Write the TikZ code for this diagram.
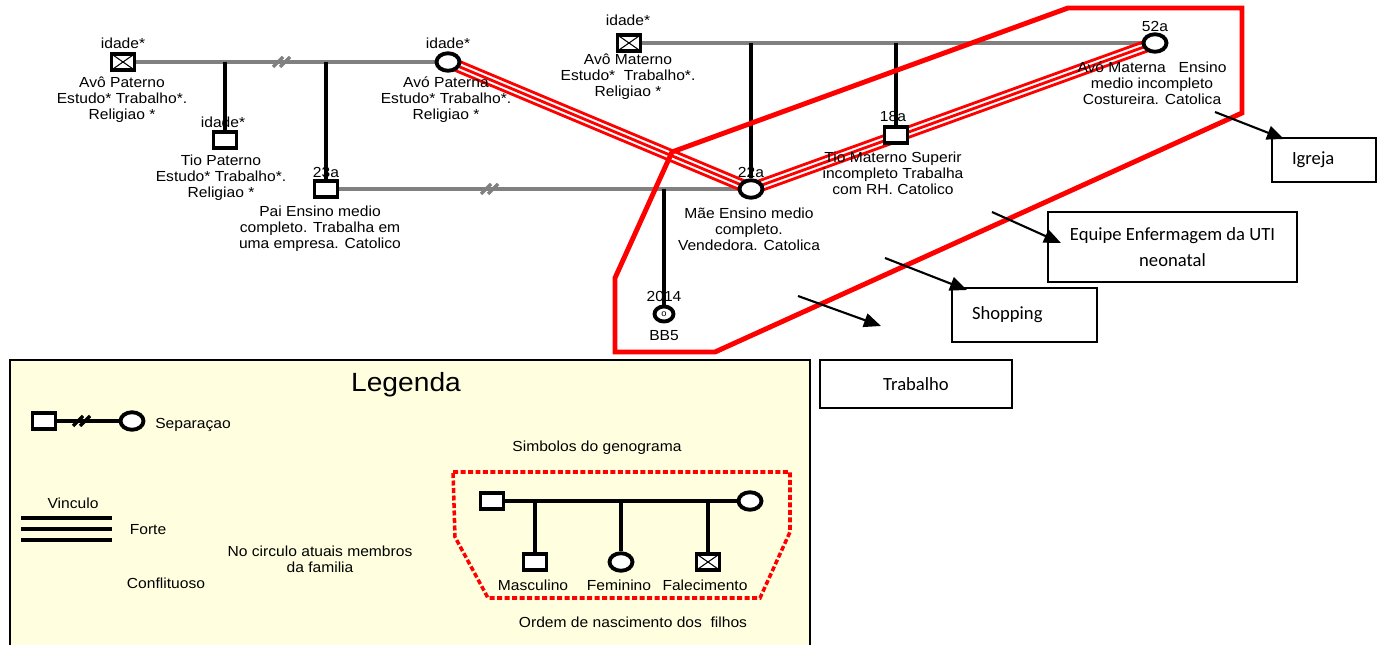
\documentclass[tikz,border=0pt]{standalone}
\usepackage{fontspec}
\setmainfont{Liberation Sans}[FakeStretch=1.07]
\newfontfamily\boxfont{Carlito}
\usetikzlibrary{arrows.meta,calc,backgrounds,shapes.geometric}
\definecolor{legbg}{RGB}{255,255,224}
\begin{document}
\begin{tikzpicture}[x=0.02cm,y=-0.02cm,
  every node/.style={font=\fontsize{8.3}{9.1}\selectfont, inner sep=0pt},
  lbl/.style={align=center},
  sq/.style={draw, rectangle, line width=2.2pt, fill=white, minimum width=0.46cm, minimum height=0.32cm},
  dsq/.style={sq, path picture={\draw[line width=0.6pt]
      (path picture bounding box.north west)--(path picture bounding box.south east)
      (path picture bounding box.north east)--(path picture bounding box.south west);}},
  fem/.style={draw, ellipse, line width=2.2pt, fill=white, minimum width=0.46cm, minimum height=0.35cm},
  gl/.style={gray, line width=2.2pt},
  drop/.style={black, line width=2.8pt},
  rel/.style={red, line width=1.6pt},
  arr/.style={black, line width=1.2pt, -{Triangle[length=0.34cm,width=0.28cm]}},
  boxst/.style={draw, line width=1.2pt, font=\boxfont\fontsize{10.6}{14.6}\selectfont},
  lline/.style={black, line width=2pt},
  sepmark/.pic={\draw[line width=2pt] (-9,5)--(1,-5) (-2,5)--(8,-5);}
]
\useasboundingbox (0,0) rectangle (1384,645);
\clip (0,0) rectangle (1384,645);

% ---------- family nodes ----------
\node[dsq] (avoPa) at (123,62) {};
\node (avoPaAge) at (123,43) {idade*};
\node[lbl] (avoPaTxt) at (122,100) {Avô Paterno\\Estudo* Trabalho*.\\Religiao *};

\node[sq] (tioPa) at (225,140) {};
\node (tioPaAge) at (223,122) {idade*};
\node[lbl] (tioPaTxt) at (221,178) {Tio Paterno\\Estudo* Trabalho*.\\Religiao *};

\node[sq] (pai) at (326,189) {};
\node (paiAge) at (326,172) {23a};
\node[lbl] (paiTxt) at (320,229) {Pai Ensino medio\\completo. Trabalha em\\uma empresa. Catolico};

\node[fem] (avoPaF) at (448,62) {};
\node (avoPaFAge) at (448,43) {idade*};
\node[lbl] (avoPaFTxt) at (446,100) {Avó Paterna\\Estudo* Trabalho*.\\Religiao *};

\node[dsq] (avoMa) at (629,43) {};
\node (avoMaAge) at (628,20) {idade*};
\node[lbl] (avoMaTxt) at (628,77) {Avô Materno\\Estudo*\ \ Trabalho*.\\Religiao *};

\node[fem] (avoMaF) at (1155,43) {};
\node (avoMaFAge) at (1155,26) {52a};
\node[lbl] (avoMaFTxt) at (1152,83) {Avó Materna\ \ \ Ensino\\medio incompleto\\Costureira. Catolica};

\node[sq] (tioMa) at (896,135) {};
\node (tioMaAge) at (893,116) {18a};
\node[lbl] (tioMaTxt) at (893,173) {Tio Materno Superir\\incompleto Trabalha\\com RH. Catolico};

\node[fem] (mae) at (751,189) {};
\node (maeAge) at (751,172) {22a};
\node[lbl] (maeTxt) at (749,229) {Mãe Ensino medio\\completo.\\Vendedora. Catolica};

\node[fem, minimum width=0.38cm, minimum height=0.3cm, font=\fontsize{5}{6}\selectfont] (bb) at (664,314) {o};
\node (bbAge) at (664,296) {2014};
\node (bbTxt) at (664,336) {BB5};

% ---------- boxes ----------
\node[boxst, minimum width=2.08cm, minimum height=0.88cm, text width=1.28cm, inner xsep=0.4cm, align=left] (igreja) at (1324,160) {Igreja};
\node[boxst, minimum width=4.98cm, minimum height=1.4cm, align=center] (equipe) at (1172.5,247) {Equipe Enfermagem da UTI\\neonatal};
\node[boxst, minimum width=2.9cm, minimum height=1.08cm, text width=2.1cm, inner xsep=0.4cm, align=left] (shopping) at (1024.5,315) {\raisebox{0.08cm}{Shopping}};
\node[boxst, minimum width=3.84cm, minimum height=0.96cm] (trabalho) at (916,384) {Trabalho};

% ---------- arrows ----------
\coordinate (a1s) at (1215,112); \coordinate (a1e) at (1284,139);
\coordinate (a2s) at (992,212);  \coordinate (a2e) at (1061,243);
\coordinate (a3s) at (885,258);  \coordinate (a3e) at (967,290);
\coordinate (a4s) at (798,296);  \coordinate (a4e) at (881,326);
\draw[arr] (a1s) -- (a1e);
\draw[arr] (a2s) -- (a2e);
\draw[arr] (a3s) -- (a3e);
\draw[arr] (a4s) -- (a4e);

% ---------- separation marks ----------
\pic[gray] at (282,62) {sepmark};
\pic[gray] at (490,189) {sepmark};

% ---------- legend ----------
\node[font=\fontsize{15}{18}\selectfont] (legtitle) at (406,385) {Legenda};
\node[sq] (lsq) at (44,421) {};
\node[fem] (lfem) at (132,421) {};
\pic[black] at (82,421) {sepmark};
\node (sepTxt) at (193,425) {Separaçao};
\node (vinc) at (73,503) {Vinculo};
\node (forte) at (148,530) {Forte};
\node[lbl] (circ) at (320,559) {No circulo atuais membros\\da familia};
\node (confl) at (166,583) {Conflituoso};
\node (simb) at (597,448) {Simbolos do genograma};
\node[sq] (lg1) at (492,501) {};
\node[fem] (lg2) at (750,501) {};
\node[sq] (c1) at (535,562) {};
\node[fem] (c2) at (621,562) {};
\node[dsq] (c3) at (708,562) {};
\node (c1t) at (533,585) {Masculino};
\node (c2t) at (619,585) {Feminino};
\node (c3t) at (705,585) {Falecimento};
\node (ordem) at (633,622) {Ordem de nascimento dos\ \ filhos};

% ---------- lines behind nodes ----------
\begin{scope}[on background layer]
  \fill[legbg] (10,360) rectangle (810,660);
  \draw[line width=0.8pt] (10,360) rectangle (810,660);
  % legend lines
  \draw[lline] (lsq) -- (lfem);
  \draw[lline] (lg1) -- (lg2);
  \foreach \c in {c1,c2,c3} \draw[lline] (\c |- lg1) -- (\c);
  \draw[black, line width=2.2pt] (21,518) -- (112,518);
  \draw[black, line width=2.2pt] (21,529) -- (112,529);
  \draw[black, line width=2.2pt] (21,540) -- (112,540);
  \draw[red, line width=2pt, dash pattern=on 0.1cm off 0.05cm]
     (453,472) -- (790,472) -- (790,532) -- (760,598) -- (488,598) -- (455,537) -- cycle;
  % family lines
  \draw[gl] (avoPa) -- (avoPaF);
  \draw[gl] (avoMa) -- (avoMaF);
  \draw[gl] (pai) -- (mae);
  \draw[drop] (tioPa |- avoPa) -- (tioPa);
  \draw[drop] (pai |- avoPa) -- (pai);
  \draw[drop] (mae |- avoMa) -- (mae);
  \draw[drop] (tioMa |- avoMa) -- (tioMa);
  \draw[drop] (bb |- pai) -- (bb);
  % strong bonds (triple lines)
  \foreach \o in {-0.1cm,0cm,0.1cm} {
    \draw[rel] ($(avoPaF)!\o!90:(mae)$) -- ($(mae)!\o!-90:(avoPaF)$);
    \draw[rel] ($(mae)!\o!90:(avoMaF)$) -- ($(avoMaF)!\o!-90:(mae)$);
  }
  % current members outline
  \draw[red, line width=2.8pt, line join=miter]
     (1068,8) -- (672,152) -- (615,278) -- (615,352) -- (715,352) -- (1242,113) -- (1242,8) -- cycle;
\end{scope}
\end{tikzpicture}
\end{document}
